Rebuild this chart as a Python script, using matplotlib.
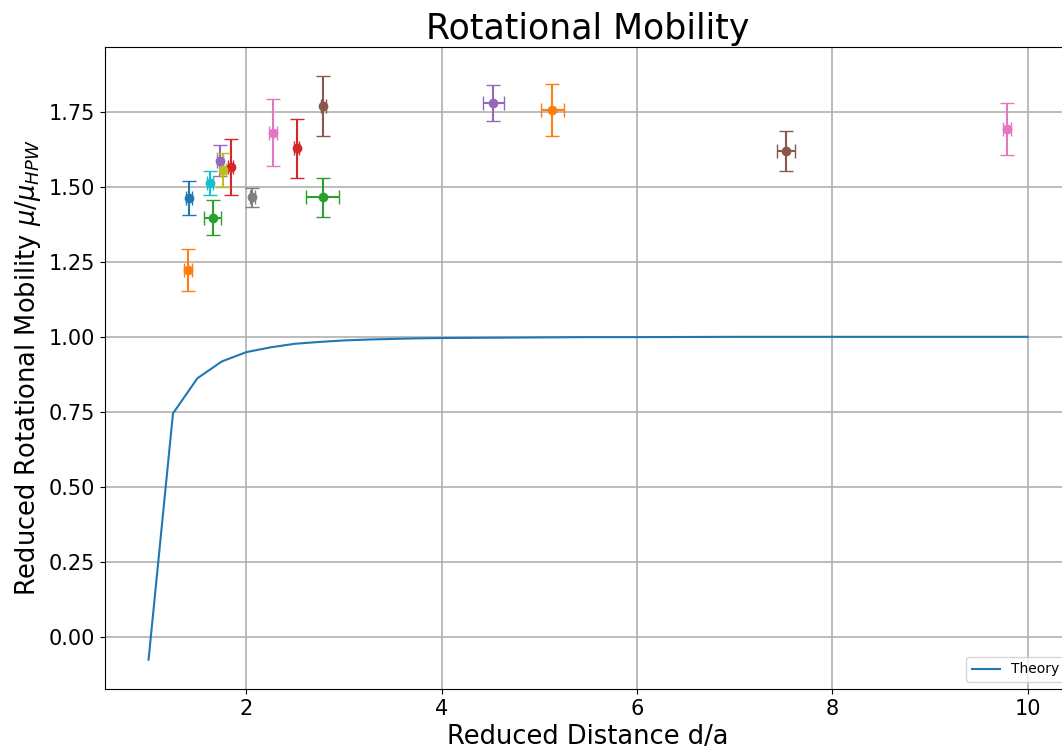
import matplotlib
matplotlib.use('Agg')
import matplotlib.pyplot as plt

# theory curve for the rotational mobility vs reduced distance
d_theory = [1.0, 1.25, 1.5, 1.75, 2.0, 2.25, 2.5, 2.75, 3.0, 3.25, 3.5, 3.75,
            4.0, 4.5, 5.0, 5.5, 6.0, 7.0, 8.0, 9.0, 10.0]
mu_theory = [-0.075, 0.745, 0.862, 0.918, 0.949, 0.965, 0.977, 0.983, 0.988,
             0.991, 0.993, 0.995, 0.996, 0.997, 0.998, 0.999, 0.999, 1.0,
             1.0, 1.0, 1.0]

# measured runs (plotted in this order, colours follow the default cycle)
d_meas = [1.403, 1.655, 1.839, 1.731, 2.791, 2.273, 2.064, 1.765, 1.632,
          1.417, 5.135, 2.781, 2.515, 4.531, 7.524, 9.786]
mu_meas = [1.222, 1.397, 1.566, 1.587, 1.767, 1.680, 1.464, 1.556, 1.513,
           1.462, 1.756, 1.464, 1.628, 1.778, 1.618, 1.692]
d_err = [0.04, 0.085, 0.03, 0.03, 0.03, 0.04, 0.03, 0.03, 0.03,
         0.03, 0.12, 0.17, 0.03, 0.11, 0.09, 0.04]
mu_err = [0.071, 0.057, 0.093, 0.053, 0.100, 0.112, 0.032, 0.056, 0.040,
          0.057, 0.086, 0.065, 0.098, 0.059, 0.067, 0.086]

fig = plt.figure(figsize=(10.62, 7.5), dpi=100)
ax = fig.add_axes([0.0985, 0.0815, 0.9105, 0.8555])

ax.plot(d_theory, mu_theory, label='Theory')
for i in range(len(d_meas)):
    ax.errorbar(d_meas[i], mu_meas[i], xerr=d_err[i], yerr=mu_err[i],
                fmt='o', capsize=5)

ax.grid(True, color='#b0b0b0', linewidth=1.2)
ax.set_axisbelow(True)
ax.set_title('Rotational Mobility', fontsize=25)
ax.set_xlabel('Reduced Distance d/a', fontsize=18.5)
ax.set_ylabel(r'Reduced Rotational Mobility $\mu/\mu_{HPW}$', fontsize=18.5)
ax.tick_params(labelsize=15)
ax.legend(loc='lower right', fontsize=10)

plt.savefig('out.png', dpi=100)
